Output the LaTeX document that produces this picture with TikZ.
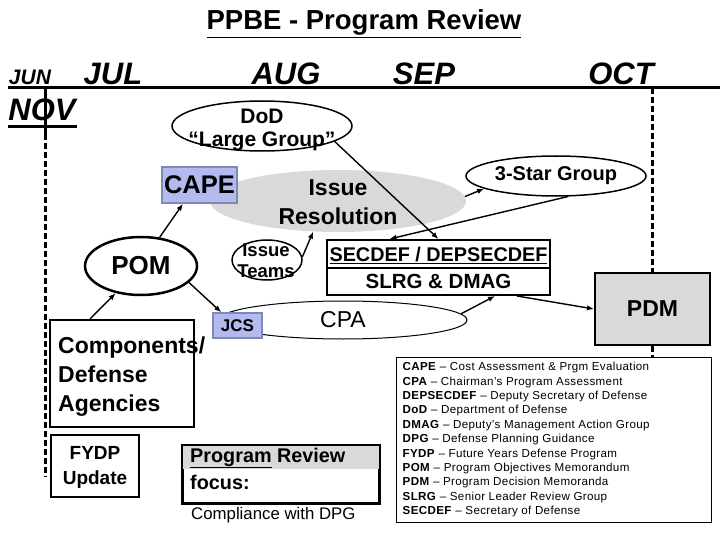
\documentclass[tikz,border=0pt]{standalone}
\usepackage{fontspec}
\setmainfont{Liberation Sans}
\usetikzlibrary{shapes.geometric,arrows.meta,calc}
\definecolor{capeblue}{RGB}{178,186,238}
\definecolor{capeedge}{RGB}{128,136,184}
\definecolor{lgray}{RGB}{217,217,217}
\newcommand{\fz}[2]{\fontsize{#1pt}{#2pt}\selectfont}
\begin{document}
\begin{tikzpicture}[x=1pt,y=-1pt,
  arr/.style={-{Latex[length=7pt,width=5.5pt]}, line width=1.4pt},
  lbl/.style={inner sep=0pt, align=center},
  ell/.style={ellipse, draw, line width=1.5pt, inner sep=0pt},
  box/.style={rectangle, draw, line width=2pt, inner sep=0pt},
  bluebox/.style={rectangle, fill=capeblue, draw=capeedge, line width=1.5pt, inner sep=0pt},
  month/.style={inner sep=0pt, anchor=base, font=\fz{31}{31}\bfseries\itshape},
  dashthick/.style={line width=3pt, dash pattern=on 6pt off 3pt},
  bigtxt/.style={font=\fz{23}{29}\bfseries}
]
\useasboundingbox (0,0) rectangle (720,540);

% title
\node[lbl, anchor=base, font=\fz{27.5}{33}\bfseries] (title) at (364,30) {\underline{PPBE - Program Review}};

% timeline
\coordinate (tlL) at (8,88);
\coordinate (tlR) at (720,88);
\draw[line width=3pt] (tlL) -- (tlR);
\node[month, font=\fz{21}{21}\bfseries\itshape] (jun) at (30,85) {JUN};
\node[month] (jul) at (113,85) {JUL};
\node[month] (aug) at (286,85) {AUG};
\node[month] (sep) at (424,85) {SEP};
\node[month] (oct) at (621,85) {OCT};
\node[month] (nov) at (42,121) {NOV};
\draw[line width=3pt] (8,127) -- (77,127);

% left vertical marker
\coordinate (vt) at (45,88);
\coordinate (vm) at (45,134);
\coordinate (vb) at (45,477);
\draw[line width=3pt] (vt) -- (vm);
\draw[dashthick] (vm) -- (vb);

% Issue Resolution (gray)
\node[ellipse, fill=lgray, inner sep=0pt, minimum width=256pt, minimum height=62pt] (ir) at (338,201) {};
\node[lbl, bigtxt] (irt) at (338,202) {Issue\\Resolution};

% DoD Large Group
\node[ell, minimum width=180pt, minimum height=50pt] (dod) at (262,126) {};
\node[lbl, font=\fz{21}{23}\bfseries] (dodt) at (262,130) {DoD\\“Large Group”};

% CAPE
\node[bluebox, minimum width=75pt, minimum height=36pt, font=\fz{25.5}{25.5}\bfseries] (cape) at (199.5,185) {CAPE};

% POM
\node[ell, line width=2.5pt, minimum width=112pt, minimum height=58pt, font=\fz{26}{26}\bfseries] (pom) at (141,266) {POM};

% Issue Teams
\node[ell, minimum width=70pt, minimum height=40pt] (it) at (267,260) {};
\node[lbl, font=\fz{18.5}{21}\bfseries] (itt) at (266,261) {Issue\\Teams};

% 3-Star Group
\node[ell, minimum width=180pt, minimum height=40pt] (star) at (556,176) {};
\node[lbl, anchor=base, font=\fz{20}{20}\bfseries] (start) at (556,181) {3-Star Group};

% SECDEF box
\node[box, minimum width=223pt, minimum height=55pt] (sec) at (438.5,267.5) {};
\draw[line width=2pt] (sec.west) -- (sec.east);
\node[lbl, anchor=base, font=\fz{19.8}{19.8}\bfseries] (sect1) at (438.5,261) {\underline{SECDEF / DEPSECDEF}};
\node[lbl, anchor=base, font=\fz{20.5}{20.5}\bfseries] (sect2) at (438.5,288) {SLRG \& DMAG};

% CPA
\node[ell, line width=1pt, minimum width=248pt, minimum height=38pt, font=\fz{23}{23}] (cpa) at (343,320) {CPA};

% JCS
\node[bluebox, minimum width=49pt, minimum height=25pt, font=\fz{17}{17}\bfseries] (jcs) at (237.5,325.5) {JCS};

% PDM
\node[box, fill=lgray, minimum width=115pt, minimum height=72pt, font=\fz{23}{23}\bfseries] (pdm) at (652.5,309) {PDM};

% Components
\node[box, minimum width=144pt, minimum height=107pt] (comp) at (122,373.5) {};
\node[lbl, bigtxt, align=left, anchor=west] (compt) at (58,377) {Components/\\Defense\\Agencies};

% FYDP
\node[box, minimum width=88pt, minimum height=62pt] (fydp) at (95,466) {};
\node[lbl, font=\fz{19}{25}\bfseries] (fydpt) at (95,467) {FYDP\\Update};

% Program Review focus
\node[box, minimum width=196pt, minimum height=57pt] (prf) at (281,474.5) {};
\fill[lgray] ([xshift=1pt,yshift=-1pt]prf.north west) rectangle ([xshift=-1pt,yshift=-24pt]prf.north east);
\draw[line width=2pt] (prf.north west) rectangle (prf.south east);
\node[lbl, anchor=base west, font=\fz{19.8}{19.8}\bfseries] (prf1) at (190,462) {\underline{Program} Review};
\node[lbl, anchor=base west, font=\fz{19.8}{19.8}\bfseries] (prf2) at (190,489) {focus:};
\node[lbl, anchor=base west, font=\fz{16.8}{16.8}] (compl) at (191,519) {Compliance with DPG};

% Legend
\node[rectangle, draw, line width=1pt, minimum width=315pt, minimum height=165pt, inner sep=0pt] (legend) at (553.5,439.5) {};
\node[lbl, align=left, anchor=north west, font=\fz{11.6}{14.4}\addfontfeature{LetterSpace=3}] (legt) at (402.5,362) {%
\textbf{CAPE} – Cost Assessment \& Prgm Evaluation\\
\textbf{CPA} – Chairman's Program Assessment\\
\textbf{DEPSECDEF} – Deputy Secretary of Defense\\
\textbf{DoD} – Department of Defense\\
\textbf{DMAG} – Deputy's Management Action Group\\
\textbf{DPG} – Defense Planning Guidance\\
\textbf{FYDP} – Future Years Defense Program\\
\textbf{POM} – Program Objectives Memorandum\\
\textbf{PDM} – Program Decision Memoranda\\
\textbf{SLRG} – Senior Leader Review Group\\
\textbf{SECDEF} – Secretary of Defense};

% right vertical dashed marker
\coordinate (rt) at (652.5,88);
\draw[dashthick] (rt) -- (pdm.north);
\draw[dashthick] (pdm.south) -- (pdm.south |- legend.north);

% connectors
\draw[arr] (dod.-12) -- (sec.north);
\draw[arr] (star.-60) -- ([xshift=63.5pt]sec.north west);
\draw[arr] (ir.2) -- (star.190);
\draw[arr] (it.5) -- (ir.231);
\draw[arr] (pom.57) -- ([xshift=-16.5pt]cape.south);
\draw[arr] (pom.-19) -- ([xshift=9pt]jcs.north west);
\draw[arr] ([xshift=-32pt]comp.north) -- (pom.227);
\draw[arr] (cpa.3) -- ([xshift=56.5pt]sec.south);
\draw[arr] ([xshift=78.5pt]sec.south) -- (pdm.west);
\end{tikzpicture}
\end{document}
